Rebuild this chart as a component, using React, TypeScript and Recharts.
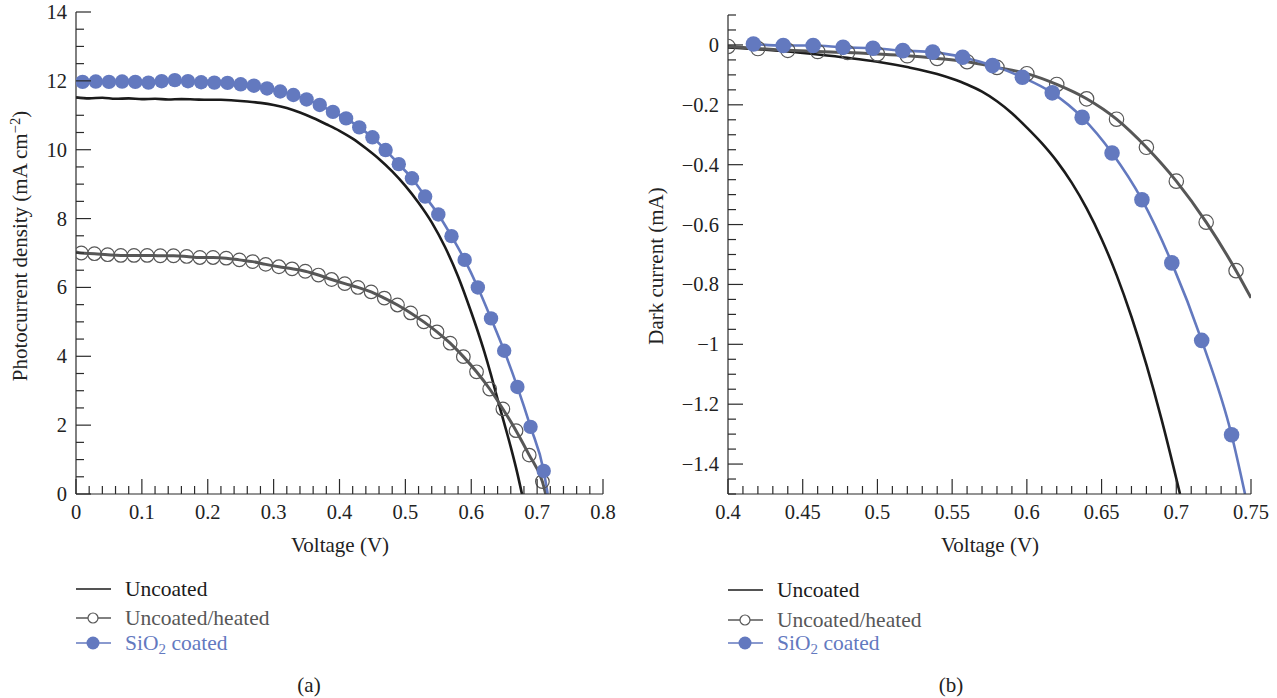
import React from 'react';
import { Line, LineChart, XAxis, YAxis } from 'recharts';

const BLACK = '#1b1b1b';
const GRAY = '#575757';
const BLUE = '#6379bf';
const AXIS = '#2a2a2a';
const FONT = '"Liberation Serif", "DejaVu Serif", serif';

// ---- (a) photocurrent density vs voltage ----
const uncoatedV = [0, 0.02, 0.04, 0.06, 0.08, 0.1, 0.12, 0.14, 0.16, 0.18, 0.2, 0.22, 0.24, 0.26, 0.28, 0.3, 0.32, 0.34, 0.36, 0.38, 0.4, 0.42, 0.44, 0.46, 0.48, 0.5, 0.52, 0.54, 0.56, 0.58, 0.6, 0.61, 0.62, 0.63, 0.64, 0.65, 0.66, 0.67, 0.677];
const uncoatedJ = [11.52, 11.49, 11.51, 11.48, 11.49, 11.47, 11.48, 11.46, 11.47, 11.46, 11.45, 11.45, 11.43, 11.4, 11.36, 11.3, 11.21, 11.08, 10.92, 10.74, 10.55, 10.32, 10.04, 9.73, 9.37, 8.95, 8.46, 7.89, 7.18, 6.32, 5.28, 4.72, 4.12, 3.46, 2.75, 2.06, 1.36, 0.6, 0];

const heatedV = [0.008, 0.028, 0.048, 0.068, 0.088, 0.108, 0.128, 0.148, 0.168, 0.188, 0.208, 0.228, 0.248, 0.268, 0.288, 0.308, 0.328, 0.348, 0.368, 0.388, 0.408, 0.428, 0.448, 0.468, 0.488, 0.508, 0.528, 0.548, 0.568, 0.588, 0.608, 0.628, 0.648, 0.668, 0.688, 0.708];
const heatedJ = [7.0, 6.98, 6.95, 6.93, 6.93, 6.93, 6.92, 6.92, 6.9, 6.87, 6.87, 6.85, 6.8, 6.75, 6.67, 6.6, 6.54, 6.47, 6.36, 6.23, 6.11, 6.0, 5.87, 5.69, 5.49, 5.26, 5.0, 4.71, 4.38, 3.99, 3.55, 3.05, 2.47, 1.84, 1.13, 0.36];
const heatedStartA = { v: 0, y: 7.03 };
const heatedEndA = { v: 0.713, y: 0 };

const coatedV = [0.01, 0.03, 0.05, 0.07, 0.09, 0.11, 0.13, 0.15, 0.17, 0.19, 0.21, 0.23, 0.25, 0.27, 0.29, 0.31, 0.33, 0.35, 0.37, 0.39, 0.41, 0.43, 0.45, 0.47, 0.49, 0.51, 0.53, 0.55, 0.57, 0.59, 0.61, 0.63, 0.65, 0.67, 0.69, 0.71];
const coatedJ = [11.97, 11.98, 11.97, 11.98, 11.97, 11.95, 11.99, 12.02, 11.99, 11.96, 11.95, 11.94, 11.9, 11.86, 11.78, 11.69, 11.59, 11.46, 11.3, 11.1, 10.91, 10.65, 10.36, 9.99, 9.58, 9.17, 8.64, 8.12, 7.49, 6.8, 6.0, 5.1, 4.16, 3.11, 1.95, 0.67];
const coatedEndA = { v: 0.716, y: 0 };

// ---- (b) dark current vs voltage ----
const darkUncoatedV = [0.4, 0.42, 0.44, 0.46, 0.48, 0.5, 0.52, 0.54, 0.55, 0.56, 0.57, 0.58, 0.59, 0.6, 0.61, 0.62, 0.63, 0.64, 0.65, 0.66, 0.67, 0.68, 0.69, 0.7, 0.7025];
const darkUncoatedI = [-0.008, -0.014, -0.022, -0.032, -0.043, -0.056, -0.074, -0.097, -0.113, -0.132, -0.156, -0.188, -0.228, -0.276, -0.328, -0.388, -0.46, -0.546, -0.648, -0.768, -0.908, -1.068, -1.248, -1.448, -1.5];

const darkHeatedV = [0.4, 0.42, 0.44, 0.46, 0.48, 0.5, 0.52, 0.54, 0.56, 0.58, 0.6, 0.62, 0.64, 0.66, 0.68, 0.7, 0.72, 0.74];
const darkHeatedI = [-0.005, -0.012, -0.018, -0.022, -0.025, -0.03, -0.036, -0.045, -0.056, -0.075, -0.096, -0.132, -0.18, -0.248, -0.342, -0.455, -0.592, -0.754];
const darkHeatedEnd = { v: 0.75, y: -0.845 };

const darkCoatedV = [0.417, 0.437, 0.457, 0.477, 0.497, 0.517, 0.537, 0.557, 0.577, 0.597, 0.617, 0.637, 0.657, 0.677, 0.697, 0.717, 0.737];
const darkCoatedI = [0.003, -0.002, -0.002, -0.008, -0.011, -0.019, -0.024, -0.041, -0.069, -0.108, -0.16, -0.242, -0.361, -0.517, -0.728, -0.987, -1.302];
const darkCoatedEnd = { v: 0.746, y: -1.5 };

// ticks
const aXMajor = [0, 0.1, 0.2, 0.3, 0.4, 0.5, 0.6, 0.7, 0.8];
const aYMajor = [0, 2, 4, 6, 8, 10, 12, 14];
const bXMajor = [0.4, 0.45, 0.5, 0.55, 0.6, 0.65, 0.7, 0.75];
const bYMajor = [-1.4, -1.2, -1, -0.8, -0.6, -0.4, -0.2, 0];

const range = (a: number, b: number, step: number) => {
  const n = Math.round((b - a) / step);
  return Array.from({ length: n + 1 }, (_, i) => +(a + i * step).toFixed(4));
};
const aXTicks = range(0, 0.8, 0.02);
const aYTicks = range(0, 14, 0.5);
const bXTicks = range(0.4, 0.75, 0.01);
const bYTicks = range(-1.5, 0.1, 0.05);

const zip = (xs: number[], ys: number[]) => xs.map((v, i) => ({ v, y: ys[i] }));
const uncoatedA = zip(uncoatedV, uncoatedJ);
const heatedA = zip(heatedV, heatedJ);
const coatedA = zip(coatedV, coatedJ);
const uncoatedB = zip(darkUncoatedV, darkUncoatedI);
const heatedB = zip(darkHeatedV, darkHeatedI);
const coatedB = zip(darkCoatedV, darkCoatedI);

const fmt = (v: number) => String(+v.toFixed(3)).replace('-', '\u2212');
const isMajor = (v: number, majors: number[]) => majors.some(m => Math.abs(m - v) < 1e-6);
const MAJ = 15;
const MIN = 8;
const TICK_FS = 20.5;

const BottomTick = ({ x, y, payload, majors }: any) => {
  const major = isMajor(payload.value, majors);
  return (
    <g>
      <line x1={x} y1={y} x2={x} y2={y - (major ? MAJ : MIN)} stroke={AXIS} strokeWidth={1.2} />
      {major && (
        <text x={x} y={y + 25} textAnchor="middle" fontFamily={FONT} fontSize={TICK_FS} fill="#222">
          {fmt(payload.value)}
        </text>
      )}
    </g>
  );
};

const TopTick = ({ x, y, payload, majors }: any) => {
  const major = isMajor(payload.value, majors);
  return <line x1={x} y1={y} x2={x} y2={y + (major ? MAJ : MIN)} stroke={AXIS} strokeWidth={1.2} />;
};

const LeftTick = ({ x, y, payload, majors }: any) => {
  const major = isMajor(payload.value, majors);
  return (
    <g>
      <line x1={x} y1={y} x2={x + (major ? MAJ : MIN)} y2={y} stroke={AXIS} strokeWidth={1.2} />
      {major && (
        <text x={x - 9} y={y + 7} textAnchor="end" fontFamily={FONT} fontSize={TICK_FS} fill="#222">
          {fmt(payload.value)}
        </text>
      )}
    </g>
  );
};

const RightTick = ({ x, y, payload, majors }: any) => {
  const major = isMajor(payload.value, majors);
  return <line x1={x} y1={y} x2={x - (major ? MAJ : MIN)} y2={y} stroke={AXIS} strokeWidth={1.2} />;
};

const axisLine = { stroke: AXIS, strokeWidth: 1.2 };

const Frame = ({ xDomain, yDomain, xTicks, yTicks, xMajor, yMajor, yWidth }: any) => [
  <XAxis key="xb" xAxisId="b" dataKey="v" type="number" domain={xDomain} ticks={xTicks} interval={0} tickSize={0} tickMargin={0} tickLine={false} height={66} axisLine={axisLine} tick={<BottomTick majors={xMajor} />} allowDataOverflow />,
  <XAxis key="xt" xAxisId="t" orientation="top" dataKey="v" type="number" domain={xDomain} ticks={xTicks} interval={0} tickSize={0} tickMargin={0} tickLine={false} height={0} axisLine={axisLine} tick={<TopTick majors={xMajor} />} allowDataOverflow />,
  <YAxis key="yl" yAxisId="l" type="number" domain={yDomain} ticks={yTicks} interval={0} tickSize={0} tickMargin={0} tickLine={false} width={yWidth} axisLine={axisLine} tick={<LeftTick majors={yMajor} />} allowDataOverflow />,
  <YAxis key="yr" yAxisId="r" orientation="right" type="number" domain={yDomain} ticks={yTicks} interval={0} tickSize={0} tickMargin={0} tickLine={false} width={0} axisLine={axisLine} tick={<RightTick majors={yMajor} />} allowDataOverflow />,
];

const Series = (uncoated: any[], heatedFit: any[], heated: any[], coatedFit: any[], coated: any[], rHollow: number, rFilled: number) => [
  <Line key="unc" xAxisId="b" yAxisId="l" type="monotone" data={uncoated} dataKey="y" stroke={BLACK} strokeWidth={2.6} dot={false} activeDot={false} isAnimationActive={false} />,
  <Line key="heatFit" xAxisId="b" yAxisId="l" type="monotone" data={heatedFit} dataKey="y" stroke={GRAY} strokeWidth={3} dot={false} activeDot={false} isAnimationActive={false} />,
  <Line key="heatPts" xAxisId="b" yAxisId="l" data={heated} dataKey="y" stroke="none" dot={{ r: rHollow, stroke: GRAY, strokeWidth: 1.2, fill: 'none' }} activeDot={false} isAnimationActive={false} />,
  <Line key="coat" xAxisId="b" yAxisId="l" type="monotone" data={coatedFit} dataKey="y" stroke={BLUE} strokeWidth={2.6} dot={false} activeDot={false} isAnimationActive={false} />,
  <Line key="coatPts" xAxisId="b" yAxisId="l" data={coated} dataKey="y" stroke="none" dot={{ r: rFilled, stroke: 'none', fill: BLUE }} activeDot={false} isAnimationActive={false} />,
];

const textStyle: React.CSSProperties = { position: 'absolute', fontFamily: FONT, fontSize: 21, color: '#222', whiteSpace: 'nowrap', lineHeight: '24px', textAlign: 'center' };

const LegendRow = ({ x, y, kind, color, children }: any) => (
  <div style={{ position: 'absolute', left: x, top: y - 12, height: 24, display: 'flex', alignItems: 'center', whiteSpace: 'nowrap' }}>
    <svg width={35} height={16} style={{ marginRight: 14 }}>
      <line x1={0} x2={35} y1={8} y2={8} stroke={color} strokeWidth={1.6} />
      {kind === 'hollow' && <circle cx={17} cy={8} r={5} fill="#fff" stroke={color} strokeWidth={1.2} />}
      {kind === 'filled' && <circle cx={17} cy={8} r={6.5} fill={color} />}
    </svg>
    <span style={{ color, fontFamily: FONT, fontSize: 21.5, lineHeight: '24px' }}>{children}</span>
  </div>
);

const Legend = ({ x, ys }: { x: number; ys: number[] }) => (
  <>
    <LegendRow x={x} y={ys[0]} kind="line" color={BLACK}>Uncoated</LegendRow>
    <LegendRow x={x} y={ys[1]} kind="hollow" color={GRAY}>Uncoated/heated</LegendRow>
    <LegendRow x={x} y={ys[2]} kind="filled" color={BLUE}>
      SiO<sub style={{ fontSize: '0.7em', verticalAlign: '-0.25em', lineHeight: 0 }}>2</sub> coated
    </LegendRow>
  </>
);

export default function App() {
  return (
    <div style={{ position: 'absolute', left: 0, top: 0, width: 1277, height: 698, background: '#fff', overflow: 'hidden' }}>
      <div style={{ position: 'absolute', left: 0, top: 0 }}>
        <LineChart width={640} height={560} margin={{ top: 12, right: 37, left: 0, bottom: 0 }}>
          {Frame({ xDomain: [0, 0.8], yDomain: [0, 14], xTicks: aXTicks, yTicks: aYTicks, xMajor: aXMajor, yMajor: aYMajor, yWidth: 76 })}
          {Series(uncoatedA, [heatedStartA, ...heatedA, heatedEndA], heatedA, [...coatedA, coatedEndA], coatedA, 6.8, 7.2)}
        </LineChart>
      </div>
      <div style={{ position: 'absolute', left: 640, top: 0 }}>
        <LineChart width={637} height={560} margin={{ top: 15, right: 26, left: 0, bottom: 0 }}>
          {Frame({ xDomain: [0.4, 0.75], yDomain: [-1.5, 0.1], xTicks: bXTicks, yTicks: bYTicks, xMajor: bXMajor, yMajor: bYMajor, yWidth: 88 })}
          {Series(uncoatedB, [...heatedB, darkHeatedEnd], heatedB, [...coatedB, darkCoatedEnd], coatedB, 7.2, 7.8)}
        </LineChart>
      </div>

      <div style={{ ...textStyle, left: 240, top: 533, width: 200 }}>Voltage (V)</div>
      <div style={{ ...textStyle, left: 890, top: 533, width: 200 }}>Voltage (V)</div>
      <div style={{ ...textStyle, left: 20 - 170, top: 246 - 12, width: 340, transform: 'rotate(-90deg)' }}>
        Photocurrent density (mA cm<sup style={{ fontSize: '0.7em', verticalAlign: '0.5em', lineHeight: 0 }}>{'\u22122'}</sup>)
      </div>
      <div style={{ ...textStyle, left: 656 - 120, top: 266 - 12, width: 240, transform: 'rotate(-90deg)' }}>Dark current (mA)</div>

      <Legend x={76} ys={[589, 618, 643]} />
      <Legend x={728} ys={[590, 620, 643]} />

      <div style={{ ...textStyle, left: 309 - 30, top: 685 - 12, width: 60 }}>(a)</div>
      <div style={{ ...textStyle, left: 951 - 30, top: 685 - 12, width: 60 }}>(b)</div>
    </div>
  );
}
